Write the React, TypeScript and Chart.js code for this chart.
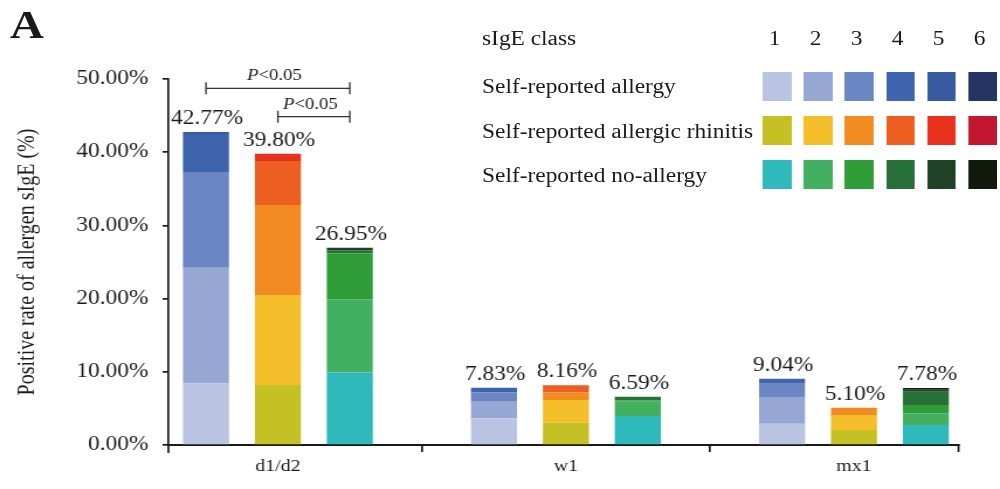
import React, { useEffect, useRef } from 'react';
import { Chart, registerables } from 'chart.js';

Chart.register(...registerables);

// ---------------- data ----------------
const categories = ['d1/d2', 'w1', 'mx1'];
const groupNames = ['Self-reported allergy', 'Self-reported allergic rhinitis', 'Self-reported no-allergy'];
const classLabels = ['1', '2', '3', '4', '5', '6'];

// values per sIgE class (rows) for each category [d1/d2, w1, mx1]
const allergyValues = [
  [8.43, 3.64, 2.91],
  [15.77, 2.28, 3.65],
  [13.1, 1.28, 1.82],
  [5.17, 0.63, 0.66],
  [0.3, 0, 0],
  [0, 0, 0],
];
const rhinitisValues = [
  [8.2, 3.05, 2.05],
  [12.3, 3.1, 2.05],
  [12.3, 1.05, 1.0],
  [6.0, 0.96, 0],
  [1.0, 0, 0],
  [0, 0, 0],
];
const noAllergyValues = [
  [9.9, 3.96, 2.73],
  [10.0, 1.96, 1.6],
  [6.3, 0.2, 1.13],
  [0.4, 0.47, 1.8],
  [0.35, 0, 0.3],
  [0, 0, 0.22],
];

const allergyTotals = ['42.77%', '7.83%', '9.04%'];
const rhinitisTotals = ['39.80%', '8.16%', '5.10%'];
const noAllergyTotals = ['26.95%', '6.59%', '7.78%'];

const allergyColors = ['#b9c4e2', '#97a7d3', '#6c85c3', '#3f64ae', '#3a5a9f', '#253461'];
const rhinitisColors = ['#c5c024', '#f4bf2a', '#f28c22', '#ec5f20', '#e8321e', '#c2182f'];
const noAllergyColors = ['#2fb9bb', '#43b061', '#2f9e38', '#27703a', '#1f4226', '#111a0c'];

const yTicks = [0, 10, 20, 30, 40, 50];

// significance comparisons: category index, group indices compared
const comparisonCategory = [0, 0];
const comparisonFrom = [0, 1];
const comparisonTo = [2, 2];
const comparisonText = ['<0.05', '<0.05'];

// ---------------- style ----------------
const groupValues = [allergyValues, rhinitisValues, noAllergyValues];
const groupTotals = [allergyTotals, rhinitisTotals, noAllergyTotals];
const groupColors = [allergyColors, rhinitisColors, noAllergyColors];

const INNER_W = 855;
const H = 489;
const SX = 1000 / INNER_W;
const FONT = '"Liberation Serif", "Times New Roman", serif';
const INK = '#1a1a1a';
const bracketLevels = [48.73, 44.85]; // y-value where brackets are drawn

const barLabelPlugin = {
  id: 'barLabels',
  afterDatasetsDraw(chart: any) {
    const ctx = chart.ctx;
    const ys = chart.scales.y;
    ctx.save();
    ctx.font = `20px ${FONT}`;
    ctx.fillStyle = INK;
    ctx.textAlign = 'center';
    ctx.textBaseline = 'alphabetic';
    groupTotals.forEach((labels, g) => {
      const meta = chart.getDatasetMeta(g * 6 + 5);
      labels.forEach((lab, i) => {
        let total = 0;
        groupValues[g].forEach((row) => (total += row[i]));
        const bx = meta.data[i].x;
        ctx.fillText(lab, bx + 1, ys.getPixelForValue(total) - 8);
      });
    });
    ctx.restore();
  },
};

const bracketPlugin = {
  id: 'brackets',
  afterDatasetsDraw(chart: any) {
    const ctx = chart.ctx;
    const ys = chart.scales.y;
    ctx.save();
    ctx.strokeStyle = '#333';
    ctx.lineWidth = 1.3;
    ctx.fillStyle = INK;
    comparisonCategory.forEach((cat, k) => {
      const x1 = chart.getDatasetMeta(comparisonFrom[k] * 6).data[cat].x;
      const x2 = chart.getDatasetMeta(comparisonTo[k] * 6).data[cat].x;
      const yy = ys.getPixelForValue(bracketLevels[k]);
      ctx.beginPath();
      ctx.moveTo(x1, yy);
      ctx.lineTo(x2, yy);
      ctx.moveTo(x1, yy - 6);
      ctx.lineTo(x1, yy + 6);
      ctx.moveTo(x2, yy - 6);
      ctx.lineTo(x2, yy + 6);
      ctx.stroke();
      ctx.font = `italic 16px ${FONT}`;
      const wP = ctx.measureText('P').width;
      ctx.font = `16px ${FONT}`;
      const wR = ctx.measureText(comparisonText[k]).width;
      const start = (x1 + x2) / 2 - (wP + wR) / 2 - 3;
      ctx.textAlign = 'left';
      ctx.textBaseline = 'alphabetic';
      ctx.font = `italic 16px ${FONT}`;
      ctx.fillText('P', start, yy - 8);
      ctx.font = `16px ${FONT}`;
      ctx.fillText(comparisonText[k], start + wP, yy - 8);
    });
    ctx.restore();
  },
};

const axisEndsPlugin = {
  id: 'axisEnds',
  afterDraw(chart: any) {
    const { ctx, chartArea } = chart;
    ctx.save();
    ctx.strokeStyle = INK;
    ctx.lineWidth = 1.7;
    ctx.beginPath();
    ctx.moveTo(chartArea.left, chartArea.bottom);
    ctx.lineTo(chartArea.left, chartArea.bottom + 8);
    ctx.moveTo(chartArea.right - 0.5, chartArea.bottom);
    ctx.lineTo(chartArea.right - 0.5, chartArea.bottom + 7);
    ctx.stroke();
    ctx.restore();
  },
};

function ChartCanvas() {
  const ref = useRef<HTMLCanvasElement | null>(null);
  useEffect(() => {
    if (!ref.current) return;
    const datasets: any[] = [];
    groupValues.forEach((vals, g) => {
      vals.forEach((row, c) => {
        datasets.push({
          label: `${groupNames[g]} ${classLabels[c]}`,
          stack: `g${g}`,
          data: row.map((v, i) => ({ x: i, y: v })),
          backgroundColor: groupColors[g][c],
          borderWidth: 0,
          categoryPercentage: 0.749,
          barPercentage: 0.64,
        });
      });
    });
    const chart = new Chart(ref.current, {
      type: 'bar',
      data: { datasets },
      options: {
        responsive: false,
        animation: false,
        devicePixelRatio: 1,
        layout: { padding: { top: 79, right: 35, left: 0, bottom: 0 } },
        plugins: { legend: { display: false }, tooltip: { enabled: false } },
        font: { family: FONT },
        scales: {
          x: {
            type: 'linear',
            offset: false,
            min: -0.38,
            max: 2.365,
            afterBuildTicks: (scale: any) => {
              scale.ticks = categories.map((_, i) => ({ value: i }));
            },
            afterFit: (scale: any) => {
              scale.height = 44;
            },
            ticks: {
              autoSkip: false,
              maxRotation: 0,
              padding: 4,
              color: INK,
              font: { family: FONT, size: 17 },
              callback: (_v: any, i: number) => categories[i],
            },
            grid: {
              offset: true,
              drawOnChartArea: false,
              drawTicks: true,
              tickLength: 7,
              color: INK,
              lineWidth: 1.7,
            },
            border: { display: true, color: INK, width: 2 },
          },
          y: {
            type: 'linear',
            stacked: true,
            min: 0,
            max: 50,
            afterBuildTicks: (scale: any) => {
              scale.ticks = yTicks.map((v) => ({ value: v }));
            },
            afterFit: (scale: any) => {
              scale.width = 144;
            },
            ticks: {
              padding: 12,
              color: INK,
              font: { family: FONT, size: 20 },
              callback: (v: any) => Number(v).toFixed(2) + '%',
            },
            grid: {
              drawOnChartArea: false,
              drawTicks: true,
              tickLength: 5,
              color: INK,
              lineWidth: 1.7,
            },
            border: { display: true, color: INK, width: 1.7 },
            title: {
              display: true,
              text: 'Positive rate of allergen sIgE (%)',
              color: INK,
              font: { family: FONT, size: 20 },
              padding: { top: 12, bottom: 0 },
            },
          },
        },
      },
      plugins: [barLabelPlugin, bracketPlugin, axisEndsPlugin],
    });
    return () => chart.destroy();
  }, []);
  return <canvas ref={ref} width={INNER_W} height={H} style={{ position: 'absolute', left: 0, top: 0 }} />;
}

const textStyle: React.CSSProperties = {
  position: 'absolute',
  fontFamily: FONT,
  fontSize: 20,
  lineHeight: '24px',
  color: INK,
  whiteSpace: 'nowrap',
};

export default function App() {
  const rowTops = [74, 118.5, 163];
  const swatchTops = [72, 116, 160];
  const swLeft = (i: number) => (763 + 41 * i) / SX;
  const swW = 29 / SX;
  return (
    <div
      style={{
        position: 'absolute',
        left: 0,
        top: 0,
        width: INNER_W,
        height: H,
        background: '#fff',
        transform: `scaleX(${SX})`,
        transformOrigin: '0 0',
        overflow: 'hidden',
      }}
    >
      <ChartCanvas />
      <div style={{ ...textStyle, left: 8.5, top: 1, fontSize: 40, lineHeight: '48px', fontWeight: 'bold' }}>A</div>
      <div style={{ ...textStyle, left: 482 / SX, top: 26 }}>sIgE class</div>
      {classLabels.map((c, i) => (
        <div
          key={c}
          style={{ ...textStyle, left: swLeft(i) + swW / 2 - 3 / SX - 10, width: 20, textAlign: 'center', top: 26 }}
        >
          {c}
        </div>
      ))}
      {groupNames.map((name, g) => (
        <React.Fragment key={name}>
          <div style={{ ...textStyle, left: 482 / SX, top: rowTops[g] }}>{name}</div>
          {groupColors[g].map((col, i) => (
            <div
              key={col}
              style={{
                position: 'absolute',
                left: swLeft(i),
                top: swatchTops[g],
                width: swW,
                height: 29,
                background: col,
              }}
            />
          ))}
        </React.Fragment>
      ))}
    </div>
  );
}
